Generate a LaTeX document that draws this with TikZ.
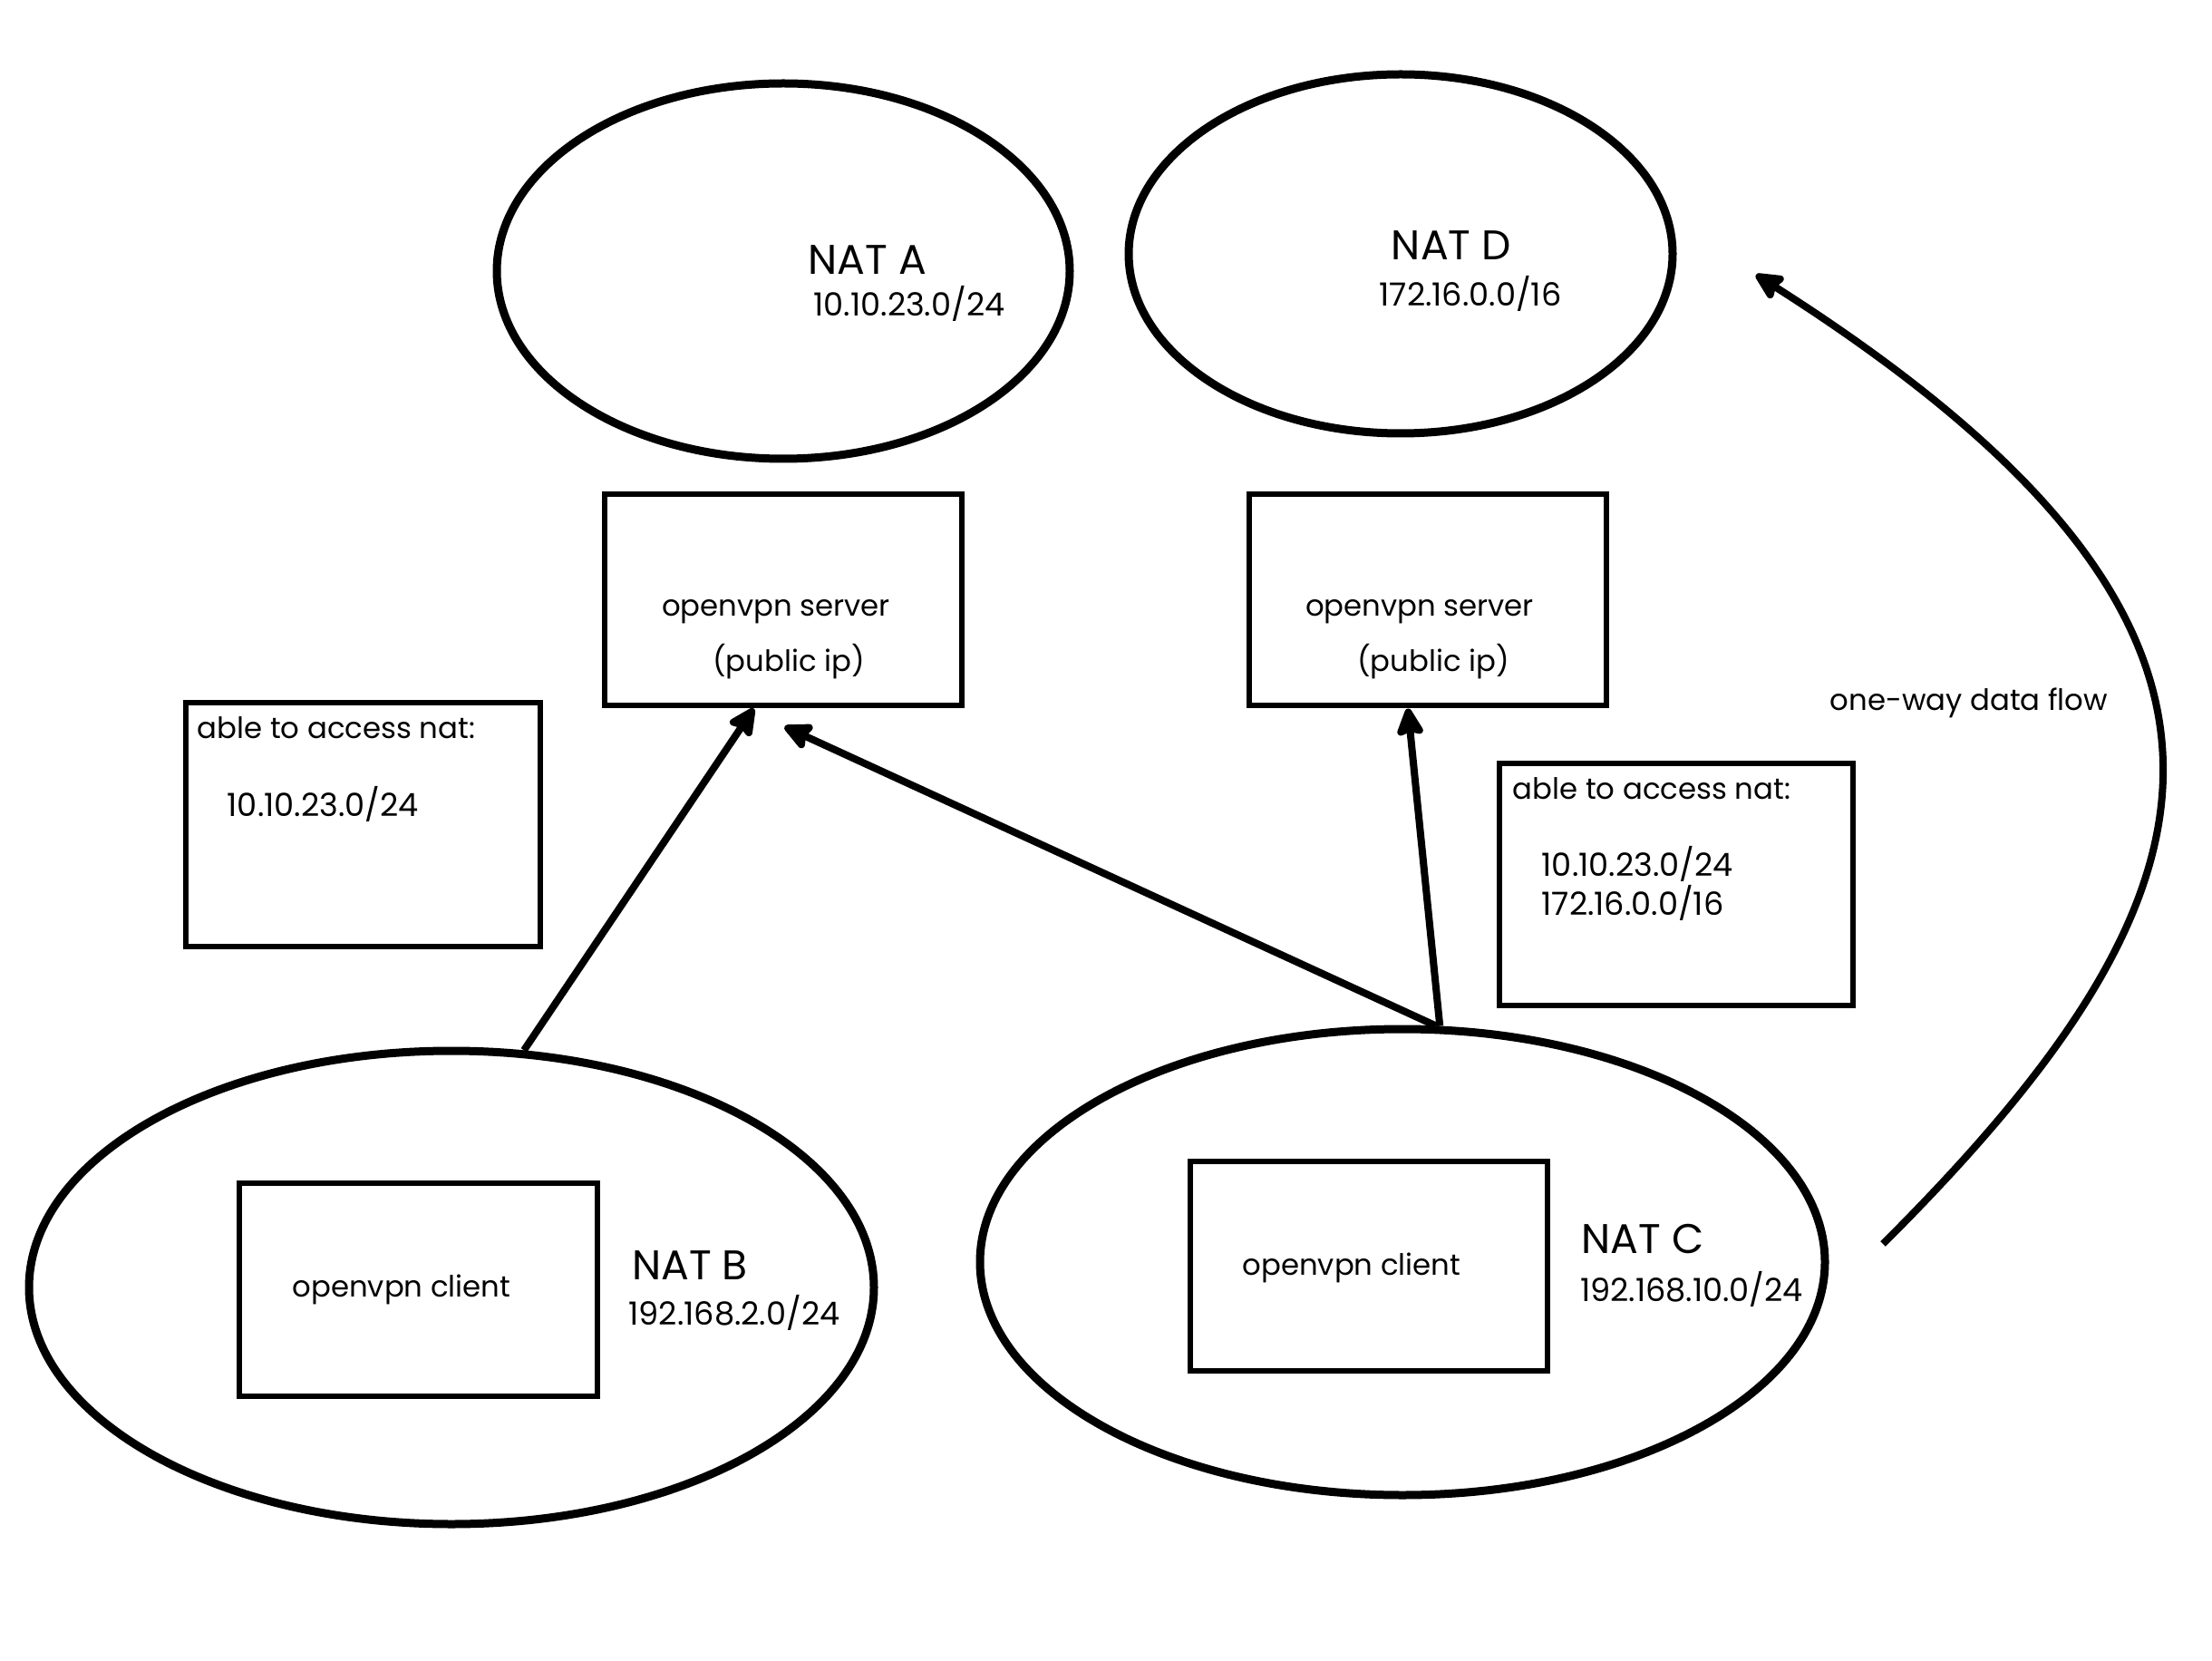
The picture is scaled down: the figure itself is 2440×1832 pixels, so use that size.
\documentclass[tikz,border=0pt]{standalone}
\usepackage{fontspec}
\setmainfont{Poppins}
\usetikzlibrary{arrows.meta,shapes.geometric}
\begin{document}
\begin{tikzpicture}[x=0.1mm,y=-0.1mm,
  natell/.style={draw, ellipse, line width=0.9mm, inner sep=0pt},
  boxnode/.style={draw, rectangle, line width=0.6mm, inner sep=0pt},
  biglbl/.style={font=\fontsize{13}{15}\selectfont, inner sep=0pt, anchor=base},
  smalllbl/.style={font=\fontsize{9.2}{12}\selectfont, inner sep=0pt, anchor=base},
  iplbl/.style={font=\fontsize{10}{12}\selectfont, inner sep=0pt, anchor=base},
  leftlbl/.style={smalllbl, anchor=base west},
  leftip/.style={iplbl, anchor=base west},
  flow/.style={line width=0.8mm, -{Stealth[length=3.6mm,width=3.4mm,inset=0.5mm,round]}}
]
\useasboundingbox[fill=white] (0,0) rectangle (2440,1832);

% NAT ellipses
\node[natell, minimum width=63.2mm, minimum height=41.4mm] (natA) at (864,299) {};
\node[natell, minimum width=60mm, minimum height=39.6mm] (natD) at (1545,280) {};
\node[natell, minimum width=93.2mm, minimum height=52.2mm] (natB) at (498,1420) {};
\node[natell, minimum width=93.2mm, minimum height=51.4mm] (natC) at (1547,1392) {};

% boxes
\node[boxnode, minimum width=39.4mm, minimum height=23.3mm] (srvA) at (863.5,662) {};
\node[boxnode, minimum width=39.4mm, minimum height=23.3mm] (srvD) at (1575,662) {};
\node[boxnode, minimum width=39.1mm, minimum height=26.9mm] (accL) at (400,909) {};
\node[boxnode, minimum width=39mm, minimum height=26.7mm] (accR) at (1848.5,975) {};
\node[boxnode, minimum width=39.5mm, minimum height=23.5mm] (cliB) at (461,1422) {};
\node[boxnode, minimum width=39.4mm, minimum height=23.1mm] (cliC) at (1509.5,1396) {};

% NAT labels
\node[biglbl] (labA) at (957,303) {NAT A};
\node[iplbl] (ipA) at (1003,349) {10.10.23.0/24};
\node[biglbl] (labD) at (1601,287) {NAT D};
\node[iplbl] (ipD) at (1622,338) {172.16.0.0/16};
\node[biglbl] (labB) at (761,1411) {NAT B};
\node[iplbl] (ipB) at (810,1461) {192.168.2.0/24};
\node[biglbl] (labC) at (1812,1382) {NAT C};
\node[iplbl] (ipC) at (1866,1435) {192.168.10.0/24};

% box texts
\node[smalllbl] (srvAt1) at (856,680) {openvpn server};
\node[smalllbl] (srvAt2) at (870,740) {(public ip)};
\node[smalllbl] (srvDt1) at (1566,680) {openvpn server};
\node[smalllbl] (srvDt2) at (1581,740) {(public ip)};
\node[smalllbl] (cliBt) at (443,1430) {openvpn client};
\node[smalllbl] (cliCt) at (1491,1406) {openvpn client};

\node[leftlbl] (accLt1) at (217,814) {able to access nat:};
\node[leftip] (accLt2) at (250,900) {10.10.23.0/24};
\node[leftlbl] (accRt1) at (1668,881) {able to access nat:};
\node[leftip] (accRt2) at (1700,966) {10.10.23.0/24};
\node[leftip] (accRt3) at (1700,1009) {172.16.0.0/16};

\node[smalllbl] (flowlbl) at (2172,784) {one-way data flow};

% connectors
\draw[flow] (natB.73) -- ([xshift=-3.2mm]srvA.south);
\draw[flow] (natC.82) -- ([xshift=0.2mm,yshift=-2mm]srvA.south);
\draw[flow] (natC.81) -- ([xshift=-2.2mm]srvD.south);
\coordinate (cs) at (2077,1372);
\coordinate (ce) at (1937,303);
\draw[flow] (cs) .. controls (2463,987) and (2555,696) .. (ce);
\end{tikzpicture}
\end{document}
